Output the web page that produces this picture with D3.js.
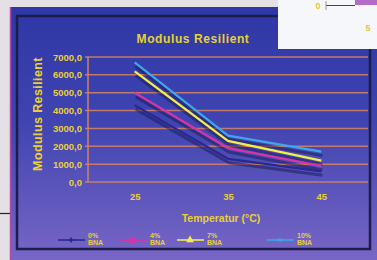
<!DOCTYPE html>
<html><head><meta charset="utf-8">
<script src="https://cdn.jsdelivr.net/npm/d3@7"></script>
<style>html,body{margin:0;padding:0;background:#e6e2e8;}svg{display:block;}</style>
</head><body>
<script>
const categories = ["25", "35", "45"];
const seriesNames = ["0% BNA", "4% BNA", "7% BNA", "10% BNA"];
const s0 = [4300, 1300, 600];
const s1 = [5000, 1900, 900];
const s2 = [6200, 2300, 1200];
const s3 = [6700, 2600, 1700];
const yTicks = [0, 1000, 2000, 3000, 4000, 5000, 6000, 7000];
const series = [s0, s1, s2, s3];
const colors = ["#2a2890", "#d434a8", "#f2ee4a", "#3ea6ec"];
const markers = ["cross", "square", "triangle", "x"];

const W = 377, H = 260;
const svg = d3.select("body").append("svg").attr("width", W).attr("height", H);
const defs = svg.append("defs");
const g1 = defs.append("linearGradient").attr("id", "bg").attr("x1", 0).attr("y1", 0).attr("x2", 0).attr("y2", 1);
g1.append("stop").attr("offset", "0%").attr("stop-color", "#2e37a6");
g1.append("stop").attr("offset", "45%").attr("stop-color", "#3f44b0");
g1.append("stop").attr("offset", "100%").attr("stop-color", "#7866c6");

svg.append("rect").attr("width", W).attr("height", H).attr("fill", "#e4e0e6");
svg.append("rect").attr("x", 10).attr("y", 7).attr("width", W - 10).attr("height", H - 7).attr("fill", "url(#bg)");
svg.append("line").attr("x1", 10.5).attr("x2", 10.5).attr("y1", 7).attr("y2", H).attr("stroke", "#b04aa8").attr("stroke-width", 1.5);
svg.append("rect").attr("x", 17).attr("y", 16).attr("width", 353).attr("height", 233)
  .attr("fill", "none").attr("stroke", "#1c1d4a").attr("stroke-width", 2.5);
svg.append("line").attr("x1", 0).attr("x2", 10).attr("y1", 213.5).attr("y2", 213.5).attr("stroke", "#222").attr("stroke-width", 1.2);

const x = d3.scalePoint().domain(categories).range([88, 368]).padding(0.5);
const y = d3.scaleLinear().domain([0, 7000]).range([182, 57]);

const fmt = d => d3.format(".1f")(d).replace(".", ",");
const textCol = "#e8d036";
const font = "Liberation Sans, Arial, sans-serif";

const grid = svg.append("g");
grid.selectAll("line").data(yTicks).join("line")
  .attr("x1", 85).attr("x2", 368).attr("y1", d => y(d)).attr("y2", d => y(d))
  .attr("stroke", "#d98462").attr("stroke-width", 1.5).attr("opacity", 0.85);
svg.append("line").attr("x1", 88).attr("x2", 88).attr("y1", 57).attr("y2", 182)
  .attr("stroke", "#d98462").attr("stroke-width", 1.4);

const yAxis = d3.axisLeft(y).tickValues(yTicks).tickFormat(fmt).tickSize(0).tickPadding(4);
const ya = svg.append("g").attr("transform", "translate(86,0)").call(yAxis);
ya.select(".domain").remove();
ya.selectAll("text").attr("fill", textCol).attr("font-family", font).attr("font-weight", "bold").attr("font-size", 9.5);

const xAxis = d3.axisBottom(x).tickSize(0).tickPadding(0);
const xa = svg.append("g").attr("transform", "translate(0,193)").call(xAxis);
xa.select(".domain").remove();
xa.selectAll("text").attr("fill", textCol).attr("font-family", font).attr("font-weight", "bold").attr("font-size", 9.5);

svg.append("text").attr("x", 193).attr("y", 43).attr("text-anchor", "middle").attr("fill", textCol)
  .attr("font-family", font).attr("font-weight", "bold").attr("font-size", 12).attr("letter-spacing", 0.6).text("Modulus Resilient");
svg.append("text").attr("transform", "translate(42,114) rotate(-90)").attr("text-anchor", "middle").attr("fill", textCol)
  .attr("font-family", font).attr("font-weight", "bold").attr("font-size", 12.5).attr("letter-spacing", 0.4).text("Modulus Resilient");
svg.append("text").attr("x", 221).attr("y", 222).attr("text-anchor", "middle").attr("fill", textCol)
  .attr("font-family", font).attr("font-weight", "bold").attr("font-size", 10.5).text("Temperatur (°C)");

const line = d3.line().x((d, i) => x(categories[i])).y(d => y(d));
const lg = svg.append("g");
series.forEach((s, i) => {
  lg.append("path").datum(s).attr("d", line).attr("fill", "none")
    .attr("stroke", "#181850").attr("stroke-opacity", 0.5).attr("stroke-width", 3)
    .attr("transform", "translate(1,4)");
});
series.forEach((s, i) => {
  lg.append("path").datum(s).attr("d", line).attr("fill", "none")
    .attr("stroke", colors[i]).attr("stroke-width", 2.2).attr("stroke-linejoin", "round");
});

const legX = [58, 120, 177, 267];
const leg = svg.append("g");
seriesNames.forEach((n, i) => {
  const gx = legX[i], gy = 240;
  leg.append("line").attr("x1", gx).attr("x2", gx + 27).attr("y1", gy).attr("y2", gy).attr("stroke", colors[i]).attr("stroke-width", 1.6);
  const cx = gx + 13;
  if (markers[i] === "square") leg.append("rect").attr("x", cx - 3).attr("y", gy - 3).attr("width", 6).attr("height", 6).attr("fill", colors[i]);
  else if (markers[i] === "triangle") leg.append("path").attr("d", d3.symbol(d3.symbolTriangle, 26)()).attr("transform", `translate(${cx},${gy})`).attr("fill", colors[i]);
  else if (markers[i] === "cross") leg.append("path").attr("d", d3.symbol(d3.symbolCross, 14)()).attr("transform", `translate(${cx},${gy})`).attr("fill", colors[i]);
  else leg.append("path").attr("d", d3.symbol(d3.symbolTimes, 14)()).attr("transform", `translate(${cx},${gy})`).attr("stroke", colors[i]).attr("fill", "none");
  const parts = n.split(" ");
  const t = leg.append("text").attr("x", gx + 30).attr("y", gy - 2).attr("fill", textCol)
    .attr("font-family", font).attr("font-weight", "bold").attr("font-size", 7);
  t.append("tspan").attr("x", gx + 30).text(parts[0]);
  t.append("tspan").attr("x", gx + 30).attr("dy", 7).text(parts[1]);
});

svg.append("rect").attr("x", 278).attr("y", 0).attr("width", 99).attr("height", 49).attr("fill", "#f6f7fb");
svg.append("rect").attr("x", 355).attr("y", 0).attr("width", 22).attr("height", 5).attr("fill", "#b46cc6");
svg.append("line").attr("x1", 326).attr("x2", 355).attr("y1", 5.5).attr("y2", 5.5).attr("stroke", "#444").attr("stroke-width", 1);
svg.append("line").attr("x1", 326).attr("x2", 326).attr("y1", 1).attr("y2", 10).attr("stroke", "#998").attr("stroke-width", 1);
svg.append("text").attr("x", 318).attr("y", 9).attr("text-anchor", "middle").attr("fill", "#e0c830")
  .attr("font-family", font).attr("font-weight", "bold").attr("font-size", 9).text("0");
svg.append("text").attr("x", 368).attr("y", 31).attr("text-anchor", "middle").attr("fill", "#e0c830")
  .attr("font-family", font).attr("font-weight", "bold").attr("font-size", 9).text("5");
</script>
</body></html>
